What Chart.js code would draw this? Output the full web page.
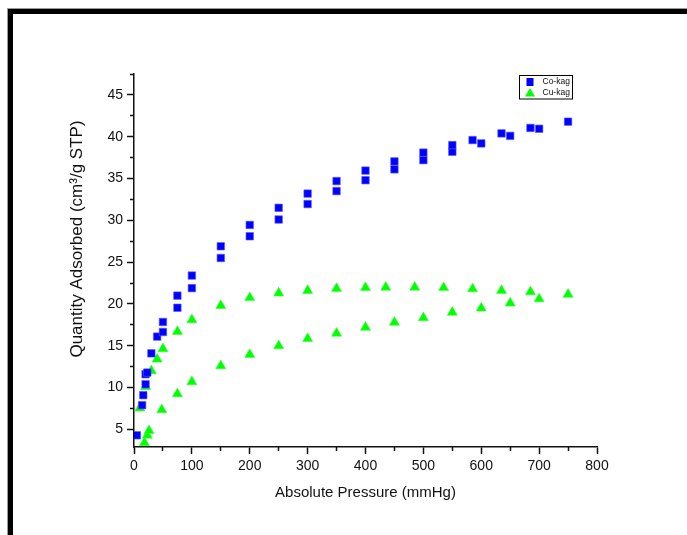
<!DOCTYPE html>
<html>
<head>
<meta charset="utf-8">
<title>Co-kag / Cu-kag adsorption isotherms</title>
<script src="https://cdn.jsdelivr.net/npm/chart.js@4.4.1/dist/chart.umd.min.js"></script>
<style>
  html, body { margin: 0; padding: 0; background: #fff; }
  #wrap { position: relative; width: 687px; height: 535px; overflow: hidden; }
  #frame {
    position: absolute; left: 8px; top: 9px; right: -20px; bottom: -20px;
    border-top: 5px solid #000; border-left: 5px solid #000;
    box-shadow: -1px -1px 0 #9a9a9a;
  }
  canvas { position: absolute; left: 0; top: 0; }
</style>
</head>
<body>
<div id="wrap">
  <div id="frame"></div>
  <canvas id="isotherm" width="687" height="535"></canvas>
</div>
<script>
// Isotherm readings: absolute pressure (mmHg) vs quantity adsorbed (cm3/g STP)
const coKagPressure = [5, 14, 16, 20, 20, 23, 30, 40, 50, 50, 75, 75, 100, 100, 150, 150,
    200, 200, 250, 250, 300, 300, 350, 350, 400, 400, 450, 450, 500, 500, 550, 550,
    585, 600, 635, 650, 685, 700, 750];
const coKagQuantity = [4.3, 7.9, 9.1, 10.4, 11.6, 11.8, 14.1, 16.1, 16.65, 17.85, 19.55, 21.0,
    21.9, 23.4, 25.5, 26.9, 28.1, 29.45, 30.1, 31.5, 31.95, 33.2, 33.5, 34.7, 34.8, 35.95,
    36.1, 37.05, 37.2, 38.1, 38.2, 39.0, 39.6, 39.2, 40.4, 40.1, 41.05, 40.95, 41.8];

const cuKagPressure = [10, 18, 23, 26, 20, 30, 40, 48, 50, 75, 75, 100, 100, 150, 150,
    200, 200, 250, 250, 300, 300, 350, 350, 400, 400, 435, 450, 485, 500, 535, 550,
    585, 600, 635, 650, 685, 700, 750];
const cuKagQuantity = [7.55, 3.4, 4.3, 4.85, 10.1, 12.0, 13.4, 7.35, 14.65, 9.25, 16.7, 10.7,
    18.1, 12.6, 19.8, 13.95, 20.75, 15.0, 21.3, 15.85, 21.6, 16.5, 21.85, 17.2, 21.95,
    22.0, 17.8, 22.0, 18.35, 21.95, 19.0, 21.8, 19.5, 21.6, 20.1, 21.45, 20.6, 21.15];

const xTicks = [0, 100, 200, 300, 400, 500, 600, 700, 800];
const xMinorTicks = [50, 150, 250, 350, 450, 550, 650, 750];
const yTicks = [5, 10, 15, 20, 25, 30, 35, 40, 45];
const yMinorTicks = [7.5, 12.5, 17.5, 22.5, 27.5, 32.5, 37.5, 42.5, 47.5];

const FONT = '"Liberation Sans", Arial, sans-serif';
const INK = '#111';

const toPoints = (xs, ys) => xs.map((x, i) => ({ x, y: ys[i] }));

// fixed tick positions, taken from the arrays above
const useTicks = values => scale => { scale.ticks = values.map(value => ({ value })); };

function majorAxis(position, min, max, values, size) {
    return {
        type: 'linear', position, min, max, weight: 1,
        afterBuildTicks: useTicks(values),
        afterFit: scale => {
            if (position === 'left') scale.width = size; else scale.height = size;
        },
        grid: { drawOnChartArea: false, tickLength: 7, tickWidth: 1.5, tickColor: INK },
        border: { color: INK, width: 1.5 },
        ticks: { color: INK, font: { family: FONT, size: 14 }, padding: 4,
                 autoSkip: false, maxRotation: 0 }
    };
}

// minor ticks ride on a zero-size companion axis
function minorAxis(position, min, max, values) {
    return {
        type: 'linear', position, min, max, weight: 0,
        afterBuildTicks: useTicks(values),
        afterFit: scale => {
            if (position === 'left') scale.width = 0; else scale.height = 0;
        },
        grid: { drawOnChartArea: false, tickLength: 4, tickWidth: 1.5, tickColor: INK },
        border: { display: false },
        ticks: { display: false }
    };
}

const axisTitles = {
    id: 'axisTitles',
    afterDraw(chart) {
        const { ctx, chartArea } = chart;
        ctx.save();
        ctx.fillStyle = INK;
        ctx.textAlign = 'center';
        ctx.textBaseline = 'middle';
        ctx.font = `15px ${FONT}`;
        ctx.fillText('Absolute Pressure (mmHg)', (chartArea.left + chartArea.right) / 2, chartArea.bottom + 46);
        ctx.translate(chartArea.left - 57, chartArea.top + 165);
        ctx.rotate(-Math.PI / 2);
        ctx.font = `17px ${FONT}`;
        ctx.fillText('Quantity Adsorbed (cm\u00B3/g STP)', 0, 0);
        ctx.restore();
    }
};

// boxed legend in the top right corner of the plot
const boxLegend = {
    id: 'boxLegend',
    afterDraw(chart) {
        const { ctx, chartArea } = chart;
        const left = chartArea.right - 77.5, top = chartArea.top + 1.5;
        const w = 53, h = 23.5;
        ctx.save();
        ctx.strokeStyle = '#000';
        ctx.lineWidth = 1;
        ctx.strokeRect(left, top, w, h);
        ctx.font = `8.5px ${FONT}`;
        ctx.textBaseline = 'middle';
        chart.data.datasets.forEach((ds, i) => {
            const cx = left + 10.5, cy = top + 6.5 + i * 11;
            ctx.fillStyle = ds.backgroundColor;
            ctx.beginPath();
            if (ds.pointStyle === 'rect') {
                ctx.rect(cx - 3.5, cy - 4, 7, 8);
            } else {
                ctx.moveTo(cx, cy - 5);
                ctx.lineTo(cx + 5, cy + 3.5);
                ctx.lineTo(cx - 5, cy + 3.5);
                ctx.closePath();
            }
            ctx.fill();
            ctx.fillStyle = INK;
            ctx.fillText(ds.label, left + 23, cy);
        });
        ctx.restore();
    }
};

new Chart(document.getElementById('isotherm'), {
    type: 'scatter',
    data: {
        datasets: [
            {
                label: 'Co-kag',
                data: toPoints(coKagPressure, coKagQuantity),
                pointStyle: 'rect',
                pointRadius: 5.3,
                backgroundColor: '#0000ff',
                borderColor: 'rgba(90, 90, 255, 0.6)',
                borderWidth: 1
            },
            {
                label: 'Cu-kag',
                data: toPoints(cuKagPressure, cuKagQuantity),
                pointStyle: 'triangle',
                pointRadius: 5.8,
                backgroundColor: '#00ff00',
                borderColor: 'rgba(60, 255, 60, 0.6)',
                borderWidth: 1
            }
        ]
    },
    options: {
        responsive: false,
        animation: false,
        events: [],
        layout: { padding: { left: 0, top: 74, right: 90, bottom: 0 } },
        plugins: { legend: { display: false }, tooltip: { enabled: false } },
        scales: {
            x: majorAxis('bottom', 0, 800, xTicks, 88),
            xMinor: minorAxis('bottom', 0, 800, xMinorTicks),
            y: majorAxis('left', 2.9, 47.5, yTicks, 134),
            yMinor: minorAxis('left', 2.9, 47.5, yMinorTicks)
        }
    },
    plugins: [axisTitles, boxLegend]
});
</script>
</body>
</html>
